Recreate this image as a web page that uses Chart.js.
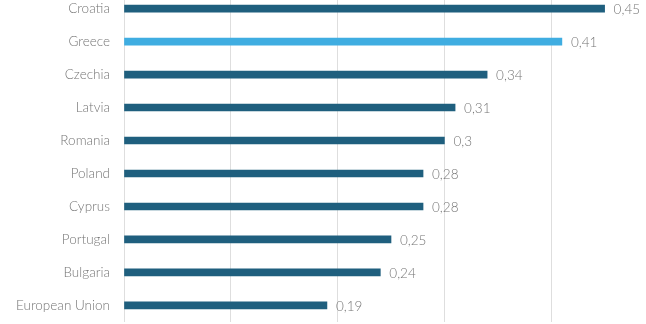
<!DOCTYPE html>
<html>
<head>
<meta charset="utf-8">
<script src="https://cdn.jsdelivr.net/npm/chart.js@4"></script>
<style>
    html, body { margin: 0; padding: 0; background: #ffffff; overflow: hidden; width: 646px; height: 324px; }
    .chart-box { position: absolute; left: 0; top: -30px; width: 658px; height: 374px; }
</style>
</head>
<body>
<div class="chart-box"><canvas id="barChart"></canvas></div>
<script>
// Chart data
const countries = ['Croatia', 'Greece', 'Czechia', 'Latvia', 'Romania', 'Poland', 'Cyprus', 'Portugal', 'Bulgaria', 'European Union'];
const values = [0.45, 0.41, 0.34, 0.31, 0.3, 0.28, 0.28, 0.25, 0.24, 0.19];
const highlight = 'Greece';

const darkBlue = '#1f5f7e';
const lightBlue = '#3fade1';
const textGray = '#767676';

// Draw value labels at bar ends, with comma decimals
const valueLabels = {
    id: 'valueLabels',
    afterDatasetsDraw(chart) {
        const ctx = chart.ctx;
        const meta = chart.getDatasetMeta(0);
        ctx.save();
        ctx.font = "300 13.5px 'Lato', sans-serif";
        ctx.fillStyle = textGray;
        ctx.textBaseline = 'middle';
        ctx.textAlign = 'left';
        meta.data.forEach((bar, i) => {
            const txt = String(values[i]).replace('.', ',');
            ctx.fillText(txt, bar.x + 9, bar.y + 1);
        });
        ctx.restore();
    }
};

new Chart(document.getElementById('barChart'), {
    type: 'bar',
    data: {
        labels: countries,
        datasets: [{
            data: values,
            backgroundColor: countries.map(c => c === highlight ? lightBlue : darkBlue),
            barThickness: 7,
            borderWidth: 0
        }]
    },
    options: {
        indexAxis: 'y',
        responsive: true,
        maintainAspectRatio: false,
        animation: false,
        layout: { padding: 0 },
        plugins: {
            legend: { display: false },
            tooltip: { enabled: false }
        },
        scales: {
            x: {
                min: 0,
                max: 0.5,
                ticks: { display: false, stepSize: 0.1 },
                grid: { color: '#dedede', lineWidth: 1, drawTicks: false },
                border: { display: false }
            },
            y: {
                afterFit: function (scale) { scale.width = 124; },
                ticks: {
                    color: textGray,
                    font: { family: "'Lato', sans-serif", size: 13.5, weight: '300' },
                    padding: 14
                },
                grid: { display: false, drawTicks: false },
                border: { display: true, color: '#dedede', width: 1 }
            }
        }
    },
    plugins: [valueLabels]
});
</script>
</body>
</html>
